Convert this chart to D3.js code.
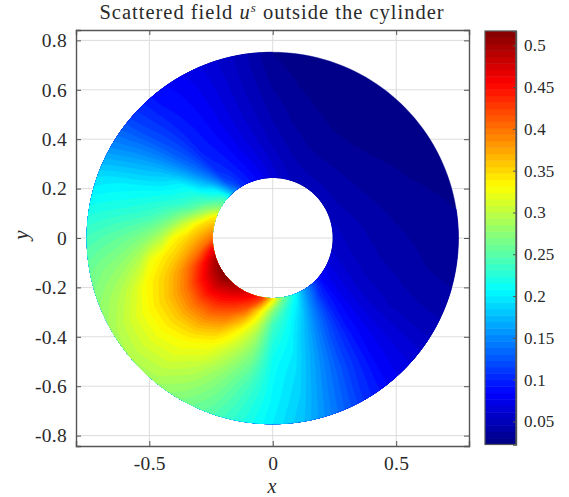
<!DOCTYPE html>
<html>
<head>
<meta charset="utf-8">
<script src="https://cdn.jsdelivr.net/npm/d3@7"></script>
<style>
  html, body { margin: 0; background: #fff; }
  svg { display: block; }
  text { font-family: "Liberation Serif", serif; fill: #2a2a2a; }
</style>
</head>
<body>
<svg id="chart" width="569" height="497"></svg>
<script>
const radii = [0.245, 0.30, 0.35, 0.40, 0.45, 0.50, 0.55, 0.60, 0.65, 0.70, 0.752];
const angles = d3.range(0, 370, 10);

// one row per angle, one column per radius
const field0 = [0.058, 0.052, 0.048, 0.045, 0.042, 0.040, 0.038, 0.036, 0.034, 0.033, 0.032];
const field10 = [0.055, 0.050, 0.046, 0.042, 0.040, 0.037, 0.035, 0.033, 0.032, 0.031, 0.030];
const field20 = [0.052, 0.047, 0.043, 0.040, 0.037, 0.035, 0.033, 0.031, 0.030, 0.029, 0.028];
const field30 = [0.050, 0.045, 0.041, 0.038, 0.035, 0.033, 0.031, 0.029, 0.028, 0.027, 0.026];
const field40 = [0.050, 0.045, 0.040, 0.037, 0.034, 0.031, 0.029, 0.028, 0.027, 0.026, 0.025];
const field50 = [0.050, 0.045, 0.040, 0.036, 0.033, 0.030, 0.028, 0.027, 0.026, 0.025, 0.024];
const field60 = [0.050, 0.045, 0.040, 0.036, 0.033, 0.030, 0.028, 0.027, 0.026, 0.025, 0.024];
const field70 = [0.052, 0.047, 0.042, 0.038, 0.035, 0.032, 0.030, 0.028, 0.027, 0.026, 0.025];
const field80 = [0.058, 0.052, 0.047, 0.043, 0.039, 0.036, 0.033, 0.031, 0.029, 0.027, 0.026];
const field90 = [0.065, 0.060, 0.055, 0.050, 0.047, 0.044, 0.041, 0.038, 0.035, 0.032, 0.030];
const field100 = [0.078, 0.072, 0.067, 0.062, 0.059, 0.056, 0.054, 0.052, 0.051, 0.050, 0.050];
const field110 = [0.090, 0.084, 0.079, 0.075, 0.072, 0.070, 0.069, 0.068, 0.067, 0.066, 0.065];
const field120 = [0.105, 0.098, 0.093, 0.090, 0.087, 0.085, 0.084, 0.083, 0.082, 0.081, 0.078];
const field130 = [0.155, 0.120, 0.108, 0.102, 0.100, 0.099, 0.098, 0.096, 0.094, 0.092, 0.090];
const field140 = [0.235, 0.200, 0.168, 0.150, 0.140, 0.133, 0.128, 0.124, 0.120, 0.117, 0.115];
const field150 = [0.275, 0.240, 0.222, 0.211, 0.197, 0.183, 0.174, 0.167, 0.161, 0.155, 0.150];
const field160 = [0.340, 0.287, 0.251, 0.232, 0.222, 0.215, 0.209, 0.204, 0.200, 0.196, 0.190];
const field170 = [0.370, 0.345, 0.310, 0.277, 0.254, 0.240, 0.233, 0.228, 0.224, 0.220, 0.216];
const field180 = [0.400, 0.372, 0.350, 0.332, 0.297, 0.278, 0.266, 0.258, 0.252, 0.246, 0.240];
const field190 = [0.455, 0.402, 0.375, 0.354, 0.340, 0.324, 0.296, 0.283, 0.274, 0.268, 0.260];
const field200 = [0.495, 0.447, 0.410, 0.381, 0.360, 0.344, 0.329, 0.310, 0.295, 0.285, 0.275];
const field210 = [0.512, 0.472, 0.437, 0.401, 0.376, 0.356, 0.340, 0.326, 0.313, 0.300, 0.288];
const field220 = [0.515, 0.478, 0.445, 0.410, 0.382, 0.358, 0.341, 0.327, 0.315, 0.304, 0.293];
const field230 = [0.497, 0.463, 0.433, 0.403, 0.374, 0.349, 0.330, 0.320, 0.309, 0.298, 0.288];
const field240 = [0.480, 0.442, 0.410, 0.379, 0.350, 0.328, 0.315, 0.300, 0.290, 0.280, 0.270];
const field250 = [0.460, 0.415, 0.368, 0.332, 0.313, 0.296, 0.284, 0.273, 0.265, 0.258, 0.250];
const field260 = [0.430, 0.342, 0.310, 0.290, 0.277, 0.265, 0.253, 0.243, 0.236, 0.230, 0.225];
const field270 = [0.340, 0.270, 0.240, 0.228, 0.219, 0.213, 0.210, 0.208, 0.206, 0.203, 0.200];
const field280 = [0.262, 0.226, 0.214, 0.207, 0.202, 0.197, 0.192, 0.188, 0.184, 0.180, 0.176];
const field290 = [0.215, 0.195, 0.182, 0.172, 0.165, 0.160, 0.155, 0.150, 0.146, 0.143, 0.140];
const field300 = [0.165, 0.150, 0.140, 0.132, 0.125, 0.120, 0.117, 0.115, 0.111, 0.108, 0.105];
const field310 = [0.125, 0.105, 0.100, 0.095, 0.092, 0.090, 0.087, 0.085, 0.083, 0.081, 0.080];
const field320 = [0.085, 0.080, 0.077, 0.075, 0.072, 0.070, 0.069, 0.068, 0.067, 0.066, 0.065];
const field330 = [0.075, 0.069, 0.064, 0.060, 0.057, 0.055, 0.053, 0.052, 0.051, 0.050, 0.050];
const field340 = [0.065, 0.060, 0.056, 0.052, 0.050, 0.048, 0.046, 0.044, 0.042, 0.041, 0.040];
const field350 = [0.060, 0.055, 0.051, 0.048, 0.045, 0.043, 0.041, 0.039, 0.037, 0.036, 0.035];

const fieldRows = [
  field0, field10, field20, field30, field40, field50, field60, field70, field80,
  field90, field100, field110, field120, field130, field140, field150, field160, field170,
  field180, field190, field200, field210, field220, field230, field240, field250, field260,
  field270, field280, field290, field300, field310, field320, field330, field340, field350,
  field0
];

const xTicks = [-0.5, 0, 0.5];
const yTicks = [-0.8, -0.6, -0.4, -0.2, 0, 0.2, 0.4, 0.6, 0.8];
const cbarTicks = [0.05, 0.1, 0.15, 0.2, 0.25, 0.3, 0.35, 0.4, 0.45, 0.5];
const cRange = [0.0225, 0.517];
const levelCount = 64;
const jetStops = ['#000080', '#0000ff', '#00ffff', '#ffff00', '#ff0000', '#800000'];
const jetPositions = [0, 0.125, 0.375, 0.625, 0.875, 1];

const svg = d3.select('#chart');
const boxColor = '#555';
const gridColor = '#dcdcdc';

const x = d3.scaleLinear().domain([-0.797, 0.795]).range([76, 469]);
const y = d3.scaleLinear().domain([-0.842, 0.842]).range([446, 30]);

let jet = d3.scaleLinear().domain(jetPositions).range(jetStops).clamp(true);
let levelValue = d3.scaleLinear().domain([0, levelCount]).range(cRange);
let levels = d3.range(levelCount);
let levelColor = (i) => jet((i + 0.5) / levelCount);

// grid first, the field goes over it and the hole leaves it showing
svg.append('g').selectAll('line').data(xTicks).join('line')
  .attr('x1', (d) => x(d)).attr('x2', (d) => x(d))
  .attr('y1', y.range()[0]).attr('y2', y.range()[1])
  .attr('stroke', gridColor);
svg.append('g').selectAll('line').data(yTicks).join('line')
  .attr('x1', x.range()[0]).attr('x2', x.range()[1])
  .attr('y1', (d) => y(d)).attr('y2', (d) => y(d))
  .attr('stroke', gridColor);

// contour bands on the (radius, angle) table, then bent round into the annulus
let radiusAt = d3.scaleLinear().domain(d3.range(radii.length)).range(radii).clamp(true);
let angleAt = d3.scaleLinear().domain(d3.range(angles.length)).range(angles).clamp(true);

function toScreen([col, row]) {
  let r = radiusAt(col - 0.5);
  let a = angleAt(row - 0.5) * Math.PI / 180;
  return [x(r * Math.cos(a)), y(r * Math.sin(a))];
}

// split long ring edges so the outer rim and the bands stay round
function bendRing(ring) {
  let pts = [];
  for (let i = 0; i < ring.length - 1; i++) {
    let [c0, r0] = ring[i];
    let [c1, r1] = ring[i + 1];
    for (let k = 0; k < 5; k++) {
      pts.push(toScreen([c0 + (c1 - c0) * k / 5, r0 + (r1 - r0) * k / 5]));
    }
  }
  return 'M' + pts.join('L') + 'Z';
}

let bandPath = (d) => d.coordinates.map((poly) => poly.map(bendRing).join('')).join('');

let contours = d3.contours()
  .size([radii.length, fieldRows.length])
  .thresholds(levels.map((i) => levelValue(i)));

svg.append('g').selectAll('path').data(contours(fieldRows.flat())).join('path')
  .attr('d', bandPath)
  .attr('fill-rule', 'evenodd')
  .attr('fill', (d, i) => levelColor(i))
  .attr('stroke', (d, i) => levelColor(i))
  .attr('stroke-width', 0.4);

// axes box
let xBottom = d3.axisBottom(x).tickValues(xTicks).tickSize(-5).tickPadding(10)
  .tickFormat((d) => String(d));
let xTop = d3.axisTop(x).tickValues(xTicks).tickSize(-5).tickFormat('');
let yLeft = d3.axisLeft(y).tickValues(yTicks).tickSize(-5).tickPadding(9)
  .tickFormat((d) => String(d));
let yRight = d3.axisRight(y).tickValues(yTicks).tickSize(-5).tickFormat('');

let styleAxis = (g) => {
  g.selectAll('path').attr('stroke', boxColor).attr('stroke-width', 1.4);
  g.selectAll('line').attr('stroke', boxColor);
  g.selectAll('text').attr('font-size', 19.5).attr('letter-spacing', 0.3).attr('fill', null);
  g.attr('font-family', null).attr('font-size', null);
};
svg.append('g').attr('transform', `translate(0,${y.range()[0]})`).call(xBottom).call(styleAxis);
svg.append('g').attr('transform', `translate(0,${y.range()[1]})`).call(xTop).call(styleAxis);
svg.append('g').attr('transform', `translate(${x.range()[0]},0)`).call(yLeft).call(styleAxis);
svg.append('g').attr('transform', `translate(${x.range()[1]},0)`).call(yRight).call(styleAxis);

// colorbar
const cbarLeft = 485;
const cbarRight = 516;
let cbarY = d3.scaleLinear().domain(cRange).range([444.5, 31]);
let cbar = svg.append('g');
cbar.selectAll('rect').data(levels).join('rect')
  .attr('x', cbarLeft)
  .attr('width', cbarRight - cbarLeft)
  .attr('y', (i) => cbarY(levelValue(i + 1)))
  .attr('height', (i) => cbarY(levelValue(i)) - cbarY(levelValue(i + 1)) + 0.5)
  .attr('fill', (i) => levelColor(i));

let cbarAxis = d3.axisRight(cbarY).tickValues(cbarTicks).tickSize(-3).tickPadding(8)
  .tickFormat((d) => String(d));
svg.append('g').attr('transform', `translate(${cbarRight},0)`).call(cbarAxis).call(styleAxis)
  .call((g) => g.selectAll('text').attr('font-size', 17).attr('letter-spacing', 0.2));
svg.append('rect')
  .attr('x', cbarLeft).attr('y', cbarY.range()[1])
  .attr('width', cbarRight - cbarLeft).attr('height', cbarY.range()[0] - cbarY.range()[1])
  .attr('fill', 'none').attr('stroke', boxColor).attr('stroke-width', 1.2);

// title and axis labels
let title = svg.append('text')
  .attr('x', 272).attr('y', 19)
  .attr('text-anchor', 'middle')
  .attr('font-size', 20.5)
  .attr('letter-spacing', 1);
title.append('tspan').text('Scattered field ');
title.append('tspan').attr('font-style', 'italic').text('u');
title.append('tspan').attr('font-style', 'italic').attr('font-size', 13).attr('dy', -7).text('s');
title.append('tspan').attr('dy', 7).text(' outside the cylinder');

svg.append('text')
  .attr('x', 272).attr('y', 492.5)
  .attr('text-anchor', 'middle')
  .attr('font-size', 20)
  .attr('font-style', 'italic')
  .text('x');

svg.append('text')
  .attr('transform', 'translate(28,235) rotate(-90)')
  .attr('text-anchor', 'middle')
  .attr('font-size', 21)
  .attr('font-style', 'italic')
  .text('y');
</script>
</body>
</html>
